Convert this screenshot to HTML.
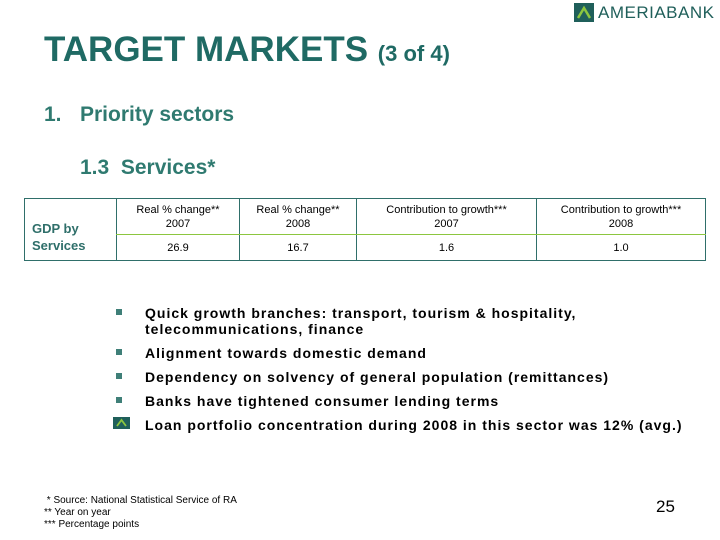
<!DOCTYPE html>
<html><head><meta charset="utf-8"><style>
body{margin:0;width:720px;height:540px;background:#fff;position:relative;overflow:hidden;font-family:"Liberation Sans",sans-serif}
.a{position:absolute;white-space:nowrap}
table{position:absolute;left:24px;top:198px;border-collapse:collapse;border:1.5px solid #2f6f6a}
td{border-left:1.5px solid #2f6f6a;font-size:11px;text-align:center;color:#000;padding:0;line-height:14px}
tr.h td{height:35px;border-bottom:1.5px solid #8cc63f}
tr.v td{height:25px}
.b{position:absolute;left:116px;width:6px;height:6px;background:#3f7f78}
.t{position:absolute;left:145px;font-size:14px;font-weight:bold;color:#000;letter-spacing:1px;white-space:nowrap;line-height:16px}
</style></head><body>
<div class="a" style="left:574px;top:3px;">
<svg width="20" height="19"><rect width="20" height="19" fill="#1f5f5a"/><path d="M4 15 L10 5 L16 15" stroke="#8cc63f" stroke-width="2.5" fill="none"/></svg>
<span style="position:absolute;left:24px;top:0;font-size:17px;color:#1f5f5a;letter-spacing:0.5px;line-height:19px">AMERIABANK</span>
</div>
<div class="a" style="left:44px;top:30px;font-size:35px;font-weight:bold;color:#1f6a64;">TARGET MARKETS <span style="font-size:22px">(3 of 4)</span></div>
<div class="a" style="left:44px;top:103px;font-size:21px;font-weight:bold;color:#2f7a70;">1.<span style="position:absolute;left:36px">Priority sectors</span></div>
<div class="a" style="left:80px;top:156px;font-size:21px;font-weight:bold;color:#2f7a70;">1.3&nbsp; Services*</div>
<table>
<tr class="h"><td rowspan="2" style="width:92px;border-left:none;border-bottom:none;text-align:left;padding-left:7px;box-sizing:border-box;font-size:13px;font-weight:bold;color:#2f6f6a;line-height:17px;vertical-align:bottom;padding-bottom:6px">GDP by<br>Services</td>
<td style="width:122px">Real % change**<br>2007</td>
<td style="width:116px">Real % change**<br>2008</td>
<td style="width:179px">Contribution to growth***<br>2007</td>
<td style="width:168px">Contribution to growth***<br>2008</td></tr>
<tr class="v"><td>26.9</td><td>16.7</td><td>1.6</td><td>1.0</td></tr>
</table>
<div class="b" style="top:309px"></div>
<div class="t" style="top:305px">Quick growth branches: transport, tourism &amp; hospitality,<br>telecommunications, finance</div>
<div class="b" style="top:349px"></div>
<div class="t" style="top:345px">Alignment towards domestic demand</div>
<div class="b" style="top:373px"></div>
<div class="t" style="top:369px">Dependency on solvency of general population (remittances)</div>
<div class="b" style="top:397px"></div>
<div class="t" style="top:393px">Banks have tightened consumer lending terms</div>
<svg class="a" style="left:113px;top:417px" width="17" height="12"><rect width="17" height="12" fill="#1f5f5a"/><path d="M4 9 L8.5 3 L13 9" stroke="#8cc63f" stroke-width="1.8" fill="none"/></svg>
<div class="t" style="top:417px">Loan portfolio concentration during 2008 in this sector was 12% (avg.)</div>
<div class="a" style="left:44px;top:495px;font-size:10px;line-height:12px;color:#000">&nbsp;* Source: National Statistical Service of RA<br>** Year on year<br>*** Percentage points</div>
<div class="a" style="left:656px;top:497px;font-size:17px;color:#000">25</div>
</body></html>
